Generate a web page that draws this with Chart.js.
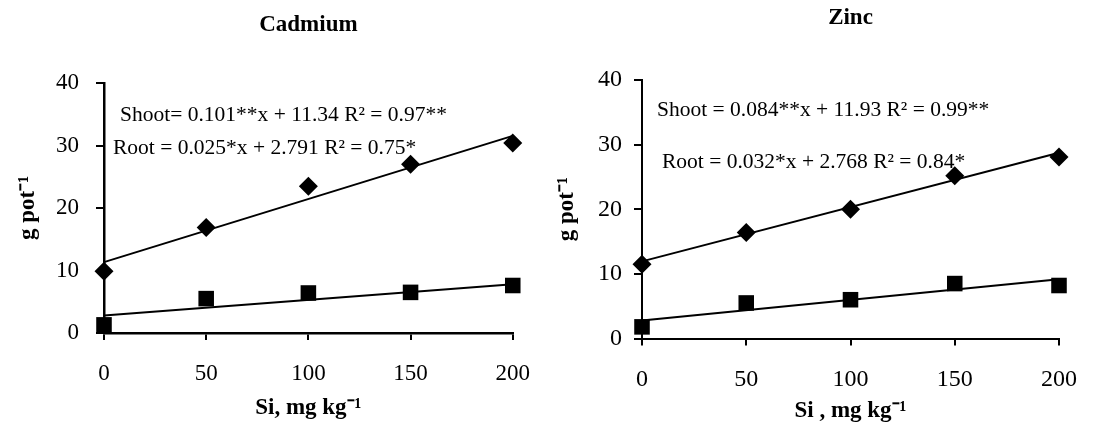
<!DOCTYPE html>
<html>
<head>
<meta charset="utf-8">
<script src="https://cdn.jsdelivr.net/npm/chart.js@4"></script>
<style>
  html, body { margin: 0; padding: 0; background: #fff; }
  #wrap { position: relative; width: 1097px; height: 432px; }
  canvas { position: absolute; top: 0; }
  #cd { left: 0; }
  #zn { left: 550px; }
</style>
</head>
<body>
<div id="wrap">
  <canvas id="cd" width="550" height="432"></canvas>
  <canvas id="zn" width="547" height="432"></canvas>
</div>
<script>
// Si levels (x axis)
const siLevels = [0, 50, 100, 150, 200];

// Cadmium panel
const cdShoot = [9.9, 16.9, 23.5, 27.0, 30.4];
const cdRoot = [1.3, 5.5, 6.4, 6.5, 7.6];
// Zinc panel
const znShoot = [11.5, 16.4, 20.0, 25.2, 28.1];
const znRoot = [1.8, 5.5, 6.0, 8.5, 8.2];

// regression lines, end points at x = 0 and x = 200
const fitX = [0, 200];
const cdShootFit = [11.34, 31.54];
const cdRootFit = [2.79, 7.79];
const znShootFit = [11.93, 28.73];
const znRootFit = [2.77, 9.17];

const cdEquations = ['Shoot= 0.101**x + 11.34 R\u00b2 = 0.97**', 'Root = 0.025*x + 2.791 R\u00b2 = 0.75*'];
const znEquations = ['Shoot = 0.084**x + 11.93 R\u00b2 = 0.99**', 'Root = 0.032*x + 2.768 R\u00b2 = 0.84*'];

const SERIF = '"Liberation Serif", "Times New Roman", serif';

function pts(xs, ys) {
    return xs.map((x, i) => ({ x: x, y: ys[i] }));
}

// draws the regression equations inside the plot
const equationPlugin = {
    id: 'equations',
    afterDraw(chart, args, opts) {
        const ctx = chart.ctx;
        ctx.save();
        ctx.fillStyle = '#000';
        ctx.font = opts.size + 'px ' + SERIF;
        ctx.textBaseline = 'middle';
        ctx.textAlign = 'left';
        opts.lines.forEach((t, i) => {
            ctx.fillText(t, opts.pos[i][0], opts.pos[i][1]);
        });
        ctx.restore();
    }
};

function makePanel(id, cfg) {
    const ctx = document.getElementById(id).getContext('2d');
    return new Chart(ctx, {
        type: 'scatter',
        data: {
            datasets: [
                {
                    label: 'Shoot',
                    data: pts(siLevels, cfg.shoot),
                    pointStyle: 'rectRot',
                    pointRadius: 9.5,
                    pointBackgroundColor: '#000',
                    pointBorderColor: '#000',
                    pointBorderWidth: 0,
                    showLine: false
                },
                {
                    label: 'Root',
                    data: pts(siLevels, cfg.root),
                    pointStyle: 'rect',
                    pointRadius: 11,
                    pointBackgroundColor: '#000',
                    pointBorderColor: '#000',
                    pointBorderWidth: 0,
                    showLine: false
                },
                {
                    label: 'Shoot fit',
                    data: pts(fitX, cfg.shootFit),
                    showLine: true,
                    borderColor: '#000',
                    borderWidth: 2,
                    pointRadius: 0
                },
                {
                    label: 'Root fit',
                    data: pts(fitX, cfg.rootFit),
                    showLine: true,
                    borderColor: '#000',
                    borderWidth: 2,
                    pointRadius: 0
                }
            ]
        },
        options: {
            responsive: false,
            animation: false,
            clip: false,
            layout: {
                padding: { left: 0, top: 0, right: cfg.padRight, bottom: 0 }
            },
            plugins: {
                legend: { display: false },
                tooltip: { enabled: false },
                title: {
                    display: true,
                    text: cfg.title,
                    fullSize: false,
                    color: '#000',
                    font: { family: SERIF, size: 23, weight: 'bold' },
                    padding: { top: cfg.titleTop, bottom: cfg.titleBottom }
                },
                equations: { lines: cfg.equations, pos: cfg.eqPos, size: 21.5 }
            },
            scales: {
                x: {
                    type: 'linear',
                    min: 0,
                    max: 200,
                    afterFit: (s) => { s.height = cfg.xHeight; },
                    afterBuildTicks: (s) => { s.ticks = siLevels.map(v => ({ value: v })); },
                    border: { display: true, color: '#000', width: cfg.axisWidth },
                    grid: { drawOnChartArea: false, color: '#000', lineWidth: 2, tickLength: 7 },
                    ticks: {
                        color: '#000',
                        padding: cfg.xTickPad,
                        maxRotation: 0,
                        font: { family: SERIF, size: cfg.tickSize }
                    },
                    title: {
                        display: true,
                        text: cfg.xTitle,
                        color: '#000',
                        font: { family: SERIF, size: 23, weight: 'bold' },
                        padding: { top: 0, bottom: cfg.xTitlePad }
                    }
                },
                y: {
                    min: 0,
                    max: 40,
                    afterFit: (s) => { s.width = cfg.yWidth; },
                    ticks: {
                        stepSize: 10,
                        color: '#000',
                        padding: cfg.yTickPad,
                        font: { family: SERIF, size: cfg.tickSize }
                    },
                    border: { display: true, color: '#000', width: cfg.axisWidth },
                    grid: { drawOnChartArea: false, color: '#000', lineWidth: 2, tickLength: 8 },
                    title: {
                        display: true,
                        text: 'g pot\u207b\u00b9',
                        color: '#000',
                        font: { family: SERIF, size: 23, weight: 'bold' },
                        padding: { top: cfg.yTitlePad, bottom: 0 }
                    }
                }
            }
        },
        plugins: [equationPlugin]
    });
}

makePanel('cd', {
    title: 'Cadmium',
    shoot: cdShoot, root: cdRoot, shootFit: cdShootFit, rootFit: cdRootFit,
    equations: cdEquations,
    eqPos: [[120, 115], [113, 148]],
    padRight: 26.5,
    titleTop: 11, titleBottom: 44.4,
    xHeight: 99, xTickPad: 20, xTitle: 'Si, mg kg\u207b\u00b9', xTitlePad: 10,
    yWidth: 104, yTickPad: 17, yTitlePad: 14.7,
    tickSize: 23, axisWidth: 2.5
});

makePanel('zn', {
    title: 'Zinc',
    shoot: znShoot, root: znRoot, shootFit: znShootFit, rootFit: znRootFit,
    equations: znEquations,
    eqPos: [[107, 110], [112, 162]],
    padRight: 31,
    titleTop: 3.8, titleBottom: 48.6,
    xHeight: 93.5, xTickPad: 20, xTitle: 'Si , mg kg\u207b\u00b9', xTitlePad: 7.4,
    yWidth: 92, yTickPad: 12, yTitlePad: 3,
    tickSize: 24, axisWidth: 2
});
</script>
</body>
</html>
